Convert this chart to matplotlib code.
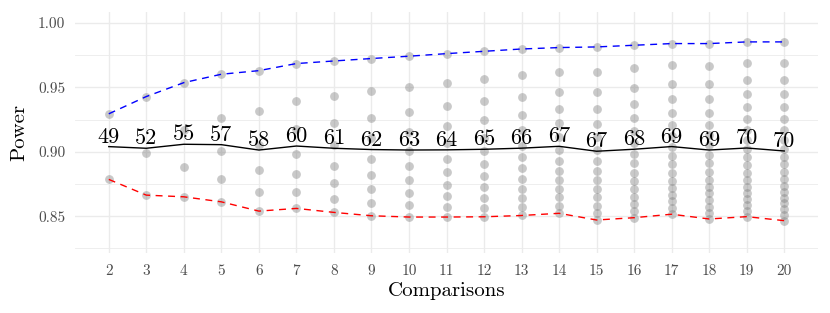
import numpy as np
import matplotlib
matplotlib.use("Agg")
import matplotlib.pyplot as plt
from matplotlib.ticker import FixedLocator

plt.rcParams['font.family'] = ['cmr10', 'DejaVu Serif']
plt.rcParams['axes.formatter.use_mathtext'] = True
plt.rcParams['mathtext.fontset'] = 'cm'

comparisons = list(range(2, 21))
sample_sizes = [49, 52, 55, 57, 58, 60, 61, 62, 63, 64, 65, 66, 67, 67, 68, 69, 69, 70, 70]

power_values = [
    [0.9295, 0.8786],
    [0.9429, 0.8990, 0.8664],
    [0.9537, 0.9168, 0.8879, 0.8651],
    [0.9602, 0.9266, 0.9005, 0.8793, 0.8612],
    [0.9630, 0.9313, 0.9050, 0.8860, 0.8690, 0.8540],
    [0.9685, 0.9395, 0.9176, 0.8984, 0.8827, 0.8687, 0.8561],
    [0.9705, 0.9432, 0.9220, 0.9050, 0.8891, 0.8757, 0.8636, 0.8530],
    [0.9724, 0.9470, 0.9266, 0.9110, 0.8948, 0.8824, 0.8708, 0.8605, 0.8504],
    [0.9742, 0.9504, 0.9310, 0.9155, 0.9005, 0.8889, 0.8778, 0.8677, 0.8587, 0.8494],
    [0.9762, 0.9537, 0.9354, 0.9199, 0.9065, 0.8946, 0.8840, 0.8744, 0.8656, 0.8571, 0.8494],
    [0.9780, 0.9568, 0.9393, 0.9245, 0.9104, 0.9005, 0.8902, 0.8809, 0.8724, 0.8643, 0.8568, 0.8496],
    [0.9798, 0.9597, 0.9429, 0.9289, 0.9168, 0.9045, 0.8961, 0.8871, 0.8786, 0.8711, 0.8638, 0.8571, 0.8506],
    [0.9809, 0.9620, 0.9465, 0.9336, 0.9220, 0.9117, 0.9013, 0.8928, 0.8851, 0.8778, 0.8711, 0.8647, 0.8582, 0.8523],
    [0.9814, 0.9620, 0.9465, 0.9331, 0.9215, 0.9113, 0.9013, 0.8930, 0.8853, 0.8781, 0.8711, 0.8647, 0.8582, 0.8523, 0.8471],
    [0.9827, 0.9647, 0.9496, 0.9372, 0.9259, 0.9163, 0.9065, 0.8982, 0.8910, 0.8838, 0.8773, 0.8711, 0.8651, 0.8595, 0.8543, 0.8489],
    [0.9840, 0.9672, 0.9530, 0.9409, 0.9300, 0.9207, 0.9122, 0.9041, 0.8971, 0.8905, 0.8839, 0.8777, 0.8719, 0.8667, 0.8616, 0.8564, 0.8516],
    [0.9840, 0.9667, 0.9527, 0.9409, 0.9298, 0.9207, 0.9130, 0.9052, 0.8975, 0.8910, 0.8845, 0.8781, 0.8729, 0.8678, 0.8626, 0.8574, 0.8523, 0.8479],
    [0.9853, 0.9693, 0.9561, 0.9445, 0.9344, 0.9254, 0.9168, 0.9091, 0.9021, 0.8957, 0.8895, 0.8838, 0.8781, 0.8729, 0.8678, 0.8631, 0.8587, 0.8543, 0.8497],
    [0.9853, 0.9693, 0.9561, 0.9445, 0.9344, 0.9254, 0.9168, 0.9091, 0.9021, 0.8962, 0.8903, 0.8845, 0.8789, 0.8737, 0.8690, 0.8644, 0.8600, 0.8556, 0.8510, 0.8466],
]

y_major_ticks = [0.85, 0.90, 0.95, 1.00]
y_tick_labels = ["0.85", "0.90", "0.95", "1.00"]
y_minor_ticks = [0.825, 0.875, 0.925, 0.975]

fig = plt.figure(figsize=(8.3, 3.13), dpi=100)
ax = fig.add_axes([75 / 830, 1 - 253 / 313, (818 - 75) / 830, (253 - 12) / 313])

# points
xs = np.concatenate([[c] * len(v) for c, v in zip(comparisons, power_values)])
ys = np.concatenate(power_values)
ax.scatter(xs, ys, s=40, color='#7f7f7f', alpha=0.42, linewidths=0, zorder=3)

max_vals = [max(v) for v in power_values]
min_vals = [min(v) for v in power_values]
mean_vals = [float(np.mean(v)) for v in power_values]

ax.plot(comparisons, max_vals, color='#0000ff', lw=1.0, dashes=(5, 4), zorder=4)
ax.plot(comparisons, min_vals, color='#ff0000', lw=1.0, dashes=(5, 4), zorder=4)
ax.plot(comparisons, mean_vals, color='black', lw=1.0, zorder=4)

for c, m, n in zip(comparisons, mean_vals, sample_sizes):
    ax.text(c, m, str(n), ha='center', va='bottom', fontsize=16, color='black', zorder=5)

ax.set_xlim(1.1, 20.9)
ax.set_ylim(0.8215, 1.0085)
ax.set_xticks(comparisons)
ax.set_xticklabels([str(c) for c in comparisons])
ax.set_yticks(y_major_ticks)
ax.set_yticklabels(y_tick_labels)
ax.yaxis.set_minor_locator(FixedLocator(y_minor_ticks))

ax.grid(True, which='major', color='#ebebeb', lw=1.0)
ax.grid(True, which='minor', axis='y', color='#ebebeb', lw=0.6)
ax.set_axisbelow(True)
for s in ax.spines.values():
    s.set_visible(False)
ax.tick_params(axis='both', which='both', length=0, labelsize=11, colors='#4d4d4d')
ax.tick_params(axis='x', pad=8)
ax.tick_params(axis='y', pad=7)

ax.set_xlabel("Comparisons", fontsize=15, color='black', labelpad=3)
ax.set_ylabel("Power", fontsize=15, color='black', labelpad=7)

fig.savefig("out.png", dpi=100)
